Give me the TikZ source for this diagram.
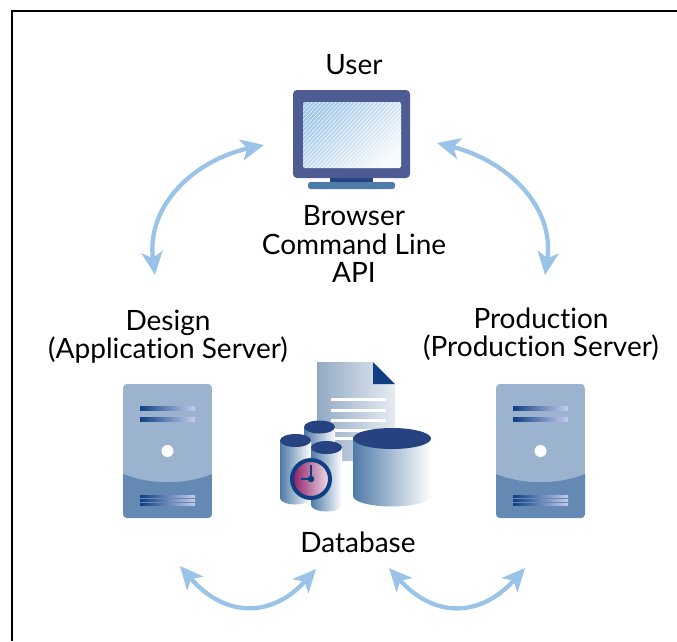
\documentclass[tikz,border=0pt]{standalone}
\usepackage{fontspec}
\setmainfont[Ligatures=NoCommon]{Lato}
\usetikzlibrary{arrows.meta}
\definecolor{arrowblue}{HTML}{9AC3E8}
\definecolor{navy}{HTML}{0F3F82}
\definecolor{cyltop}{HTML}{264280}
\definecolor{cylside}{HTML}{4F7BA8}
\definecolor{bezel}{HTML}{4F5C94}
\definecolor{srvlight}{HTML}{9BB3CF}
\definecolor{srvdark}{HTML}{6489B3}
\definecolor{clockdark}{HTML}{8A1560}
\definecolor{clocklight}{HTML}{F2E8F0}
\tikzset{
  label text/.style={font=\fontsize{28}{28}\selectfont, text=black, inner sep=0pt, anchor=base},
  link/.style={draw=arrowblue, line width=4.3pt, {Stealth[length=23pt,width=21pt,inset=6pt]}-{Stealth[length=23pt,width=21pt,inset=6pt]}},
  frame line/.style={draw=black, line width=2pt},
  slit/.style={left color=navy, right color=navy!15!white!90!blue, draw=none}
}
\newcommand{\cylinder}[6]{% cx, top centre y, rx, ry, bottom centre y, topcolor
  \shade[left color=cylside, right color=white]
    (#1-#3,#2) -- (#1-#3,#5) arc[start angle=180,end angle=360,x radius=#3pt,y radius=#4pt] -- (#1+#3,#2) -- cycle;
  \fill[#6] (#1,#2) ellipse[x radius=#3pt,y radius=#4pt];
}
\newcommand{\server}[1]{%
  \begin{scope}[shift={(#1,0)}]
    \begin{scope}
      \clip[rounded corners=4pt] (123,384) rectangle (212,518);
      \fill[srvlight] (123,384) rectangle (212,518);
      \fill[srvdark] (123,474) .. controls (150,485) and (185,485) .. (212,474) -- (212,518) -- (123,518) -- cycle;
    \end{scope}
    \shade[slit] (140,406) rectangle (195,410);
    \shade[slit] (140,417) rectangle (195,421);
    \fill[white] (167.5,451) circle[radius=6pt];
    \shade[slit] (140,495) rectangle (195,497);
    \shade[slit] (140,499) rectangle (195,501);
    \shade[slit] (140,503) rectangle (195,505);
  \end{scope}
}
\begin{document}
\begin{tikzpicture}[x=1pt,y=-1pt]
\useasboundingbox (0,0) rectangle (677,641);
% frame
\coordinate (frameA) at (11.5,641);
\coordinate (frameB) at (11.5,10.5);
\coordinate (frameC) at (677,10.5);
\draw[frame line] (frameA) -- (frameB) -- (frameC);
% monitor
\fill[cyltop] (330,176) rectangle (373,184);
\fill[cylside, rounded corners=2.5pt] (308,182) rectangle (395,189);
\fill[bezel, rounded corners=4pt] (293,90) rectangle (410,178);
\begin{scope}
  \clip[rounded corners=2pt] (303,102) rectangle (401,168);
  \shade[left color=arrowblue, right color=white!90!arrowblue, shading angle=40] (303,102) rectangle (401,168);
  \foreach \k in {-70,-66,...,100}
    \draw[white, line width=0.8pt, opacity=.75] (300+\k,172) -- (370+\k,98);
\end{scope}
% servers
\server{0}
\server{373}
% document
\shade[left color=srvlight!95!black, right color=srvlight!25!white]
  (317,362) -- (373,362) -- (395,384) -- (395,461) -- (317,461) -- cycle;
\fill[navy] (373,362) -- (395,384) -- (373,384) -- cycle;
\fill[white] (331,398) rectangle (386,401);
\fill[white] (331,409) rectangle (386,412);
\fill[white] (331,419) rectangle (386,422);
\fill[white] (331,429) rectangle (386,432);
\fill[white] (335,437) rectangle (386,440);
% cylinders
\cylinder{319.5}{427}{15.5}{6.5}{470}{cyltop}
\cylinder{295.5}{440.5}{15.5}{6.5}{498}{cyltop}
\cylinder{326.5}{447.5}{15.5}{6.5}{505}{cyltop}
\cylinder{392}{438.5}{39}{10.5}{496}{cyltop}
% clock
\shade[left color=clockdark, right color=clocklight] (311,479) circle[radius=20pt];
\draw[navy, line width=4pt] (311,479) circle[radius=19pt];
\draw[navy, line width=2.5pt] (311,479) -- (311,465);
\draw[navy, line width=2.5pt] (311,479) -- (301,479);
\fill[navy] (311,479) circle[radius=3.3pt];
% labels
\node[label text] (user) at (354,74) {User};
\node[label text] (browser) at (354,225) {Browser};
\node[label text] (cli) at (354,254) {Command Line};
\node[label text] (api) at (354,282) {API};
\node[label text] (design) at (168,330) {Design};
\node[label text] (appsrv) at (168,358) {(Application Server)};
\node[label text] (production) at (541,328) {Production};
\node[label text] (prodsrv) at (541,356) {(Production Server)};
\node[label text] (database) at (358,552) {Database};
% connector ends
\coordinate (userL) at (264,145);
\coordinate (designT) at (155,275);
\coordinate (userR) at (437,143);
\coordinate (prodT) at (545,275);
\coordinate (designB) at (180,566);
\coordinate (dbL) at (316,569);
\coordinate (dbR) at (389,568);
\coordinate (prodB) at (525,568);
% connectors
\draw[link] (designT) .. controls (146,205) and (195,160) .. (userL);
\draw[link] (userR) .. controls (505,160) and (555,205) .. (prodT);
\draw[link] (designB) .. controls (225,618) and (272,618) .. (dbL);
\draw[link] (dbR) .. controls (434,618) and (480,618) .. (prodB);
\end{tikzpicture}
\end{document}
